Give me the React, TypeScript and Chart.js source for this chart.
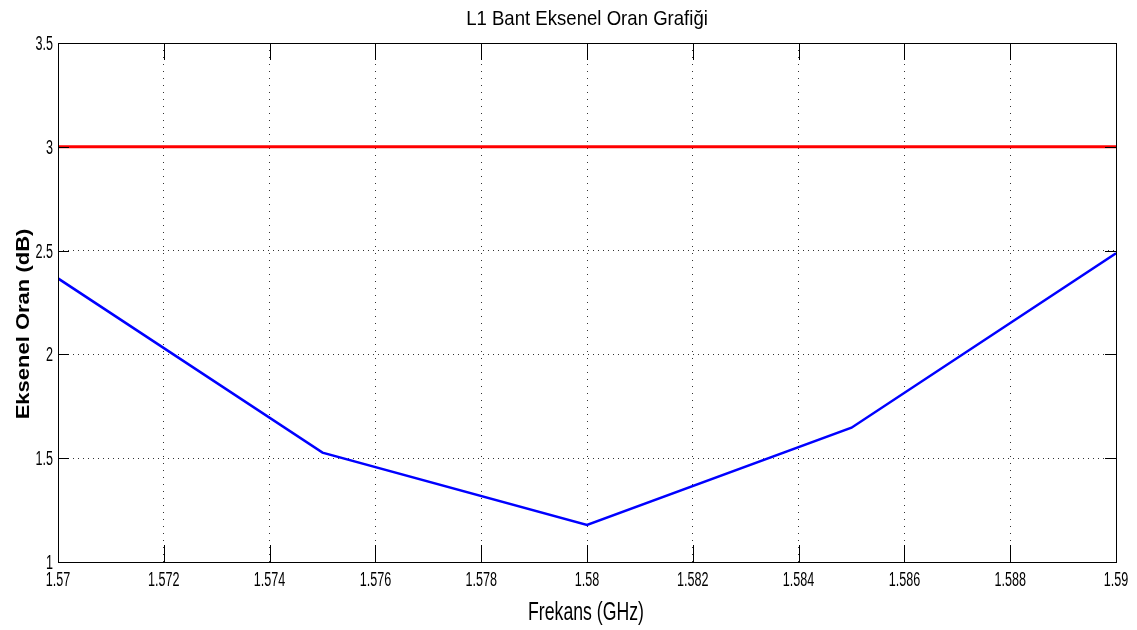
import React, { useEffect, useRef } from 'react';
import { Chart, registerables } from 'chart.js';

Chart.register(...registerables);

const chartTitle = 'L1 Bant Eksenel Oran Grafiği';
const xAxisLabel = 'Frekans (GHz)';
const yAxisLabel = 'Eksenel Oran (dB)';

const freqGHz = [1.57, 1.575, 1.58, 1.585, 1.59];
const axialRatioDb = [2.366, 1.527, 1.178, 1.647, 2.487];

const limitFreqGHz = [1.57, 1.59];
const limitDb = [3, 3];

const xTicks = [1.57, 1.572, 1.574, 1.576, 1.578, 1.58, 1.582, 1.584, 1.586, 1.588, 1.59];
const xTickLabels = ['1.57', '1.572', '1.574', '1.576', '1.578', '1.58', '1.582', '1.584', '1.586', '1.588', '1.59'];
const yTicks = [1, 1.5, 2, 2.5, 3, 3.5];
const yTickLabels = ['1', '1.5', '2', '2.5', '3', '3.5'];

const FONT = "'Liberation Sans', Arial, Helvetica, sans-serif";

function squeezedText(
  ctx: CanvasRenderingContext2D,
  text: string,
  x: number,
  y: number,
  font: string,
  sx: number,
  align: CanvasTextAlign,
) {
  ctx.save();
  ctx.translate(x, y);
  ctx.scale(sx, 1);
  ctx.font = font;
  ctx.textAlign = align;
  ctx.textBaseline = 'alphabetic';
  ctx.fillText(text, 0, 0);
  ctx.restore();
}

const framePlugin = {
  id: 'frame',
  afterDraw(chart: any) {
    const { ctx, chartArea: a, scales } = chart;
    const xs = scales.x;
    const ys = scales.y;
    ctx.save();
    ctx.strokeStyle = '#000';
    ctx.lineWidth = 1;
    // inner ticks (MATLAB style)
    ctx.beginPath();
    xTicks.forEach((v) => {
      const px = Math.round(xs.getPixelForValue(v)) + 0.5;
      ctx.moveTo(px, a.bottom);
      ctx.lineTo(px, a.bottom - 17);
      ctx.moveTo(px, a.top);
      ctx.lineTo(px, a.top + 17);
    });
    yTicks.forEach((v) => {
      const py = Math.round(ys.getPixelForValue(v)) + 0.5;
      ctx.moveTo(a.left, py);
      ctx.lineTo(a.left + 11, py);
      ctx.moveTo(a.right, py);
      ctx.lineTo(a.right - 11, py);
    });
    ctx.stroke();
    // axes box
    ctx.strokeRect(a.left + 0.5, a.top + 0.5, a.right - a.left, a.bottom - a.top);

    ctx.fillStyle = '#000';
    // tick labels
    xTicks.forEach((v, i) => {
      squeezedText(ctx, xTickLabels[i], xs.getPixelForValue(v), a.bottom + 24, `20px ${FONT}`, 0.63, 'center');
    });
    yTicks.forEach((v, i) => {
      squeezedText(ctx, yTickLabels[i], a.left - 5, ys.getPixelForValue(v) + 7, `20px ${FONT}`, 0.63, 'right');
    });

    const cx = (a.left + a.right) / 2;
    // title
    squeezedText(ctx, chartTitle, cx, 25, `21px ${FONT}`, 0.885, 'center');
    // x axis label
    squeezedText(ctx, xAxisLabel, cx - 1, 620, `26px ${FONT}`, 0.68, 'center');
    // y axis label (rotated)
    ctx.save();
    ctx.translate(29, 324);
    ctx.rotate(-Math.PI / 2);
    ctx.scale(1, 0.875);
    ctx.font = `bold 22px ${FONT}`;
    ctx.textAlign = 'center';
    ctx.textBaseline = 'alphabetic';
    ctx.fillText(yAxisLabel, 0, 0);
    ctx.restore();

    ctx.restore();
  },
};

export default function App() {
  const canvasRef = useRef<HTMLCanvasElement | null>(null);

  useEffect(() => {
    document.body.style.margin = '0';
    const canvas = canvasRef.current;
    if (!canvas) return;
    const chart = new Chart(canvas, {
      type: 'line',
      data: {
        datasets: [
          {
            label: 'Eksenel Oran',
            data: freqGHz.map((f, i) => ({ x: f, y: axialRatioDb[i] })),
            borderColor: '#0000ff',
            borderWidth: 2.5,
            pointRadius: 0,
            tension: 0,
            fill: false,
          },
          {
            label: 'Limit',
            data: limitFreqGHz.map((f, i) => ({ x: f, y: limitDb[i] })),
            borderColor: '#ff0000',
            borderWidth: 3,
            pointRadius: 0,
            tension: 0,
            fill: false,
          },
        ],
      },
      options: {
        animation: false,
        responsive: true,
        maintainAspectRatio: false,
        layout: { padding: { left: 0, right: 21, top: 43, bottom: 0 } },
        plugins: {
          legend: { display: false },
          tooltip: { enabled: false },
          title: { display: false },
        },
        scales: {
          x: {
            type: 'linear',
            min: 1.57,
            max: 1.59,
            afterBuildTicks: (scale: any) => {
              scale.ticks = xTicks.map((v) => ({ value: v }));
            },
            afterFit: (scale: any) => {
              scale.height = 68;
            },
            ticks: { display: false, autoSkip: false },
            grid: { color: '#333', lineWidth: 1, drawTicks: false },
            border: { display: false, dash: [1, 6] },
          },
          y: {
            type: 'linear',
            min: 1,
            max: 3.5,
            afterBuildTicks: (scale: any) => {
              scale.ticks = yTicks.map((v) => ({ value: v }));
            },
            afterFit: (scale: any) => {
              scale.width = 58;
            },
            ticks: { display: false, autoSkip: false },
            grid: { color: '#333', lineWidth: 1, drawTicks: false },
            border: { display: false, dash: [1, 4] },
          },
        },
      },
      plugins: [framePlugin],
    });
    return () => chart.destroy();
  }, []);

  return (
    <div style={{ position: 'relative', width: 1137, height: 630 }}>
      <canvas ref={canvasRef} />
    </div>
  );
}
